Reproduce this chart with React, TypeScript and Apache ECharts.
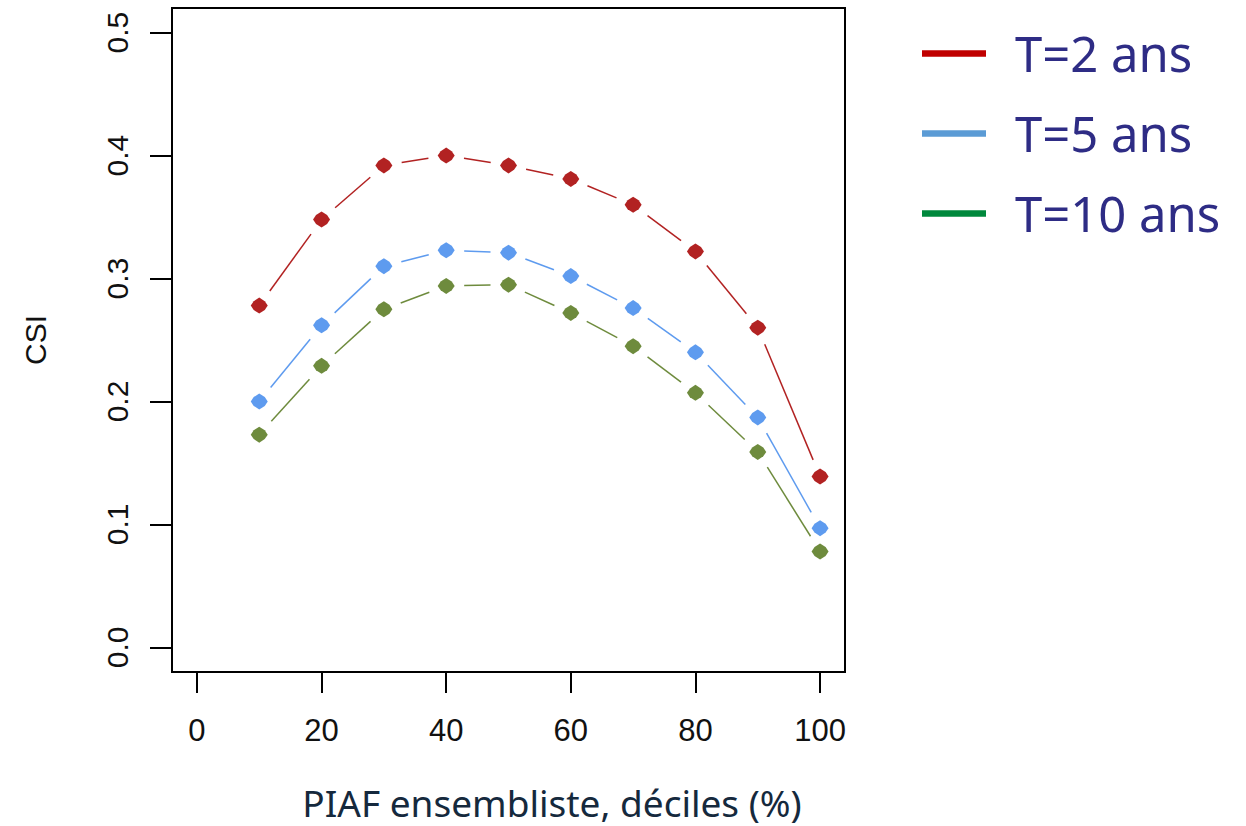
import React, { useEffect, useRef } from "react";
import * as echarts from "echarts";

const deciles = [10, 20, 30, 40, 50, 60, 70, 80, 90, 100];
const csiT2 = [0.278, 0.348, 0.392, 0.4, 0.392, 0.381, 0.36, 0.322, 0.26, 0.139];
const csiT5 = [0.2, 0.262, 0.31, 0.323, 0.321, 0.302, 0.276, 0.24, 0.187, 0.097];
const csiT10 = [0.173, 0.229, 0.275, 0.294, 0.295, 0.272, 0.245, 0.207, 0.159, 0.078];
const seriesNames = ["T=2 ans", "T=5 ans", "T=10 ans"];
const pointColors = ["#B22222", "#5E9BEF", "#6E8B3D"];
const legendColors = ["#C00000", "#5B9BD5", "#00883C"];
const xTicks = [0, 20, 40, 60, 80, 100];
const yTicks = [0, 0.1, 0.2, 0.3, 0.4, 0.5];
const xTitle = "PIAF ensembliste, déciles (%)";
const yTitle = "CSI";

const allSeries = [csiT2, csiT5, csiT10];

export default function App() {
  const ref = useRef<HTMLDivElement>(null);

  useEffect(() => {
    if (!ref.current) return;
    const chart = echarts.init(ref.current, undefined, { renderer: "svg" });

    const GAP = 18;
    const series: any[] = [];
    allSeries.forEach((vals, si) => {
      const segs: number[][] = [];
      for (let i = 0; i < vals.length - 1; i++) {
        segs.push([deciles[i], vals[i], deciles[i + 1], vals[i + 1]]);
      }
      series.push({
        type: "custom",
        name: seriesNames[si] + " ligne",
        data: segs,
        encode: { x: [0, 2], y: [1, 3] },
        silent: true,
        z: 2,
        renderItem: (params: any, api: any) => {
          const p0 = api.coord([api.value(0), api.value(1)]);
          const p1 = api.coord([api.value(2), api.value(3)]);
          const dx = p1[0] - p0[0];
          const dy = p1[1] - p0[1];
          const len = Math.sqrt(dx * dx + dy * dy);
          if (len <= 2 * GAP) return null;
          const ux = dx / len;
          const uy = dy / len;
          return {
            type: "line",
            shape: {
              x1: p0[0] + ux * GAP,
              y1: p0[1] + uy * GAP,
              x2: p1[0] - ux * GAP,
              y2: p1[1] - uy * GAP,
            },
            style: { stroke: pointColors[si], lineWidth: 1.5 },
          };
        },
      });
      series.push({
        type: "scatter",
        name: seriesNames[si],
        data: deciles.map((x, i) => [x, vals[i]]),
        symbol:
          "path://M0,-10 L6.5,-5.5 L10,0 L6.5,5.5 L0,10 L-6.5,5.5 L-10,0 L-6.5,-5.5Z",
        symbolSize: [17, 16],
        itemStyle: { color: pointColors[si], opacity: 1 },
        z: 3,
      });
    });

    const graphic: any[] = [];
    seriesNames.forEach((name, i) => {
      const cy = 53.5 + i * 80;
      graphic.push({
        type: "rect",
        shape: { x: 922, y: cy - 3.3, width: 64, height: 6.6 },
        style: { fill: legendColors[i] },
      });
      graphic.push({
        type: "text",
        x: 1015,
        y: cy - 1,
        style: {
          text: name,
          fill: "#2E2C85",
          font: '49px "Noto Sans"',
          textAlign: "left",
          textVerticalAlign: "middle",
        },
      });
    });
    graphic.push({
      type: "text",
      x: 552,
      y: 802,
      style: {
        text: xTitle,
        fill: "#15293D",
        font: '37px "Noto Sans"',
        lineHeight: 34,
        textAlign: "center",
        textVerticalAlign: "middle",
      },
    });

    chart.setOption({
      animation: false,
      backgroundColor: "#ffffff",
      grid: {
        left: 172,
        top: 8,
        width: 673,
        height: 664,
        show: true,
        borderColor: "#000000",
        borderWidth: 2,
        backgroundColor: "transparent",
      },
      xAxis: {
        type: "value",
        min: -4,
        max: 104,
        splitLine: { show: false },
        axisLine: { show: false, onZero: false },
        axisTick: {
          show: true,
          inside: false,
          customValues: xTicks,
          length: 21,
          lineStyle: { color: "#000", width: 2 },
        },
        axisLabel: {
          customValues: xTicks,
          margin: 43,
          color: "#111111",
          fontFamily: "Liberation Sans",
          fontSize: 31,
        },
      },
      yAxis: {
        type: "value",
        min: -0.02,
        max: 0.52,
        name: yTitle,
        nameLocation: "middle",
        nameRotate: 90,
        nameGap: 122,
        nameTextStyle: {
          color: "#111111",
          fontFamily: "Liberation Sans",
          fontSize: 30,
        },
        splitLine: { show: false },
        axisLine: { show: false, onZero: false },
        axisTick: {
          show: true,
          inside: false,
          customValues: yTicks,
          length: 22,
          lineStyle: { color: "#000", width: 2 },
        },
        axisLabel: {
          customValues: yTicks,
          rotate: 90,
          margin: 40,
          color: "#111111",
          fontFamily: "Liberation Sans",
          fontSize: 30,
          formatter: (v: number) => v.toFixed(1),
        },
      },
      graphic,
      series,
    });

    return () => chart.dispose();
  }, []);

  return (
    <div
      ref={ref}
      style={{ position: "fixed", left: 0, top: 0, width: 1246, height: 826 }}
    />
  );
}
